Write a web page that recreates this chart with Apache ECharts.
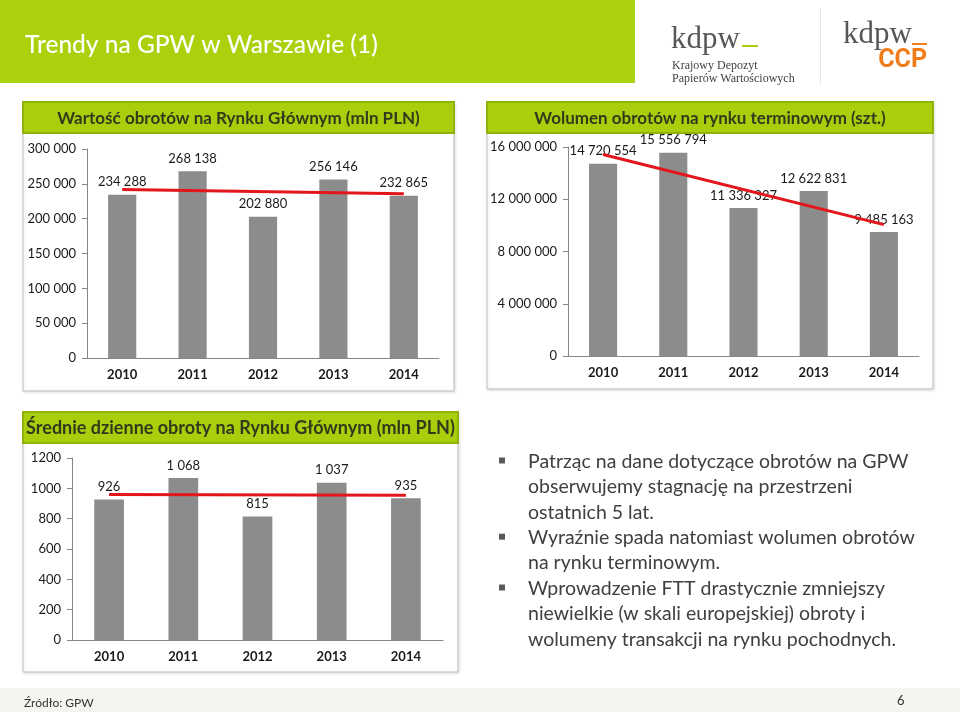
<!DOCTYPE html>
<html><head><meta charset="utf-8">
<script src="https://cdn.jsdelivr.net/npm/echarts@6/dist/echarts.min.js"></script>
<style>html,body{margin:0;padding:0;background:#fff}#c{width:960px;height:712px}</style>
</head><body><div id="c"></div>
<script>
// ---- data ----
const years = ['2010', '2011', '2012', '2013', '2014'];
const turnoverMain = [234288, 268138, 202880, 256146, 232865];
const trendMain = [241800, 235900];
const volumeDerivs = [14720554, 15556794, 11336327, 12622831, 9485163];
const trendDerivs = [15430000, 10060000];
const dailyAvg = [926, 1068, 815, 1037, 935];
const trendDaily = [959, 954];
const ticksMain = { min: 0, max: 300000, interval: 50000 };
const ticksDerivs = { min: 0, max: 16000000, interval: 4000000 };
const ticksDaily = { min: 0, max: 1200, interval: 200 };
const titles = ['Wartość obrotów na Rynku Głównym (mln PLN)', 'Wolumen obrotów na rynku terminowym (szt.)', 'Średnie dzienne obroty na Rynku Głównym (mln PLN)'];
const bullets = [
  ['Patrząc na dane dotyczące obrotów na GPW', 'obserwujemy stagnację na przestrzeni', 'ostatnich 5 lat.'],
  ['Wyraźnie spada natomiast wolumen obrotów', 'na rynku terminowym.'],
  ['Wprowadzenie FTT drastycznie zmniejszy', 'niewielkie (w skali europejskiej) obroty i', 'wolumeny transakcji na rynku pochodnych.']
];

const FONT = 'Lato, "Open Sans", sans-serif';
const sp = v => String(v).replace(/\B(?=(\d{3})+(?!\d))/g, ' ');
const GREEN = '#A9CF0C', GREEN_DARK = '#8FB30A', BAR = '#8C8C8C', RED = '#E3161C', AXIS = '#868686';

const grids = [
  { left: 87, top: 149, width: 352, height: 209 },
  { left: 568, top: 147, width: 351, height: 209 },
  { left: 72, top: 458, width: 371, height: 182 }
];
const ticks = [ticksMain, ticksDerivs, ticksDaily];
const values = [turnoverMain, volumeDerivs, dailyAvg];
const trends = [trendMain, trendDerivs, trendDaily];

const xAxis = grids.map((g, i) => ({
  type: 'category', gridIndex: i, data: years,
  axisLine: { lineStyle: { color: AXIS } },
  axisTick: { length: 5, lineStyle: { color: AXIS } },
  axisLabel: { fontFamily: FONT, fontWeight: 'bold', fontSize: 13, color: '#1a1a1a', margin: 10 }
}));
const yAxis = grids.map((g, i) => ({
  type: 'value', gridIndex: i, min: ticks[i].min, max: ticks[i].max, interval: ticks[i].interval,
  splitLine: { show: false },
  axisLine: { show: true, lineStyle: { color: AXIS } },
  axisTick: { show: true, length: 5, lineStyle: { color: AXIS } },
  axisLabel: { fontFamily: FONT, fontSize: 13, color: '#1a1a1a', margin: 11, formatter: v => i === 2 ? String(v) : sp(v) }
}));
const series = [];
values.forEach((vals, i) => {
  series.push({
    type: 'bar', xAxisIndex: i, yAxisIndex: i, data: vals, barWidth: '40%', z: 2,
    itemStyle: { color: BAR },
    label: { show: true, position: 'top', distance: 6, fontFamily: FONT, fontSize: 13, color: '#1a1a1a', formatter: p => sp(p.value) }
  });
  series.push({
    type: 'line', xAxisIndex: i, yAxisIndex: i, z: 5, symbol: 'none', silent: true,
    data: [[years[0], trends[i][0]], [years[years.length - 1], trends[i][1]]],
    lineStyle: { color: RED, width: 3 }
  });
});

const boxes = [
  { x: 23, y: 102, w: 431, h: 289, th: 31 },
  { x: 487, y: 102, w: 446, h: 287, th: 31 },
  { x: 23, y: 412, w: 435, h: 260, th: 31 }
];
const graphic = [];
// header
graphic.push({ type: 'rect', shape: { x: 0, y: 0, width: 635, height: 83 }, style: { fill: '#AAD10B' }, z: 0 });
graphic.push({ type: 'text', x: 25, y: 45, style: { text: 'Trendy na GPW w Warszawie (1)', fill: '#fff', font: '500 24.5px ' + FONT, textVerticalAlign: 'middle' }, z: 1 });
// logos
graphic.push({ type: 'text', x: 671, y: 40, style: { text: 'kdpw', fill: '#55585a', font: '31px "Liberation Serif", serif', textVerticalAlign: 'middle' } });
graphic.push({ type: 'rect', shape: { x: 742, y: 45, width: 16, height: 2 }, style: { fill: '#AACF0C' } });
graphic.push({ type: 'text', x: 672, y: 66, style: { text: 'Krajowy Depozyt', fill: '#3f3f3f', font: '12px "Liberation Serif", serif', textVerticalAlign: 'middle' } });
graphic.push({ type: 'text', x: 672, y: 79, style: { text: 'Papierów Wartościowych', fill: '#3f3f3f', font: '12px "Liberation Serif", serif', textVerticalAlign: 'middle' } });
graphic.push({ type: 'rect', shape: { x: 820, y: 8, width: 1, height: 76 }, style: { fill: '#e6e6e6' } });
graphic.push({ type: 'text', x: 843, y: 35, style: { text: 'kdpw', fill: '#55585a', font: '31px "Liberation Serif", serif', textVerticalAlign: 'middle' } });
graphic.push({ type: 'rect', shape: { x: 912, y: 43, width: 15, height: 2 }, style: { fill: '#F07D1A' } });
graphic.push({ type: 'text', x: 927, y: 61, style: { text: 'CCP', fill: '#F07D1A', font: 'bold 25px "Liberation Sans Narrow", "Roboto", sans-serif', textAlign: 'right', textVerticalAlign: 'middle' } });
// chart boxes
boxes.forEach((b, i) => {
  graphic.push({ type: 'rect', shape: { x: b.x, y: b.y, width: b.w, height: b.h }, style: { fill: '#fff', stroke: '#BFBFBF', lineWidth: 1, shadowBlur: 3, shadowColor: 'rgba(0,0,0,0.12)', shadowOffsetX: 1, shadowOffsetY: 1 }, z: -1 });
  graphic.push({ type: 'rect', shape: { x: b.x, y: b.y, width: b.w, height: b.th }, style: { fill: GREEN, stroke: GREEN_DARK, lineWidth: 2 }, z: 0 });
  graphic.push({ type: 'text', x: b.x + b.w / 2, y: b.y + b.th / 2 + 1, style: { text: titles[i], fill: '#333a1c', font: 'bold ' + (i === 2 ? 18 : 17) + 'px ' + FONT, textAlign: 'center', textVerticalAlign: 'middle' }, z: 1 });
});
// bullets
let ly = 461.5;
bullets.forEach(lines => {
  graphic.push({ type: 'rect', shape: { x: 499, y: ly - 4, width: 6, height: 6 }, style: { fill: '#595959' } });
  lines.forEach(t => {
    graphic.push({ type: 'text', x: 528, y: ly, style: { text: t, fill: '#404040', font: '19.5px ' + FONT, textVerticalAlign: 'middle' } });
    ly += 25.4;
  });
});
// footer
graphic.push({ type: 'rect', shape: { x: 0, y: 688, width: 960, height: 24 }, style: { fill: '#F5F4EE' }, z: -2 });
graphic.push({ type: 'text', x: 24, y: 703, style: { text: 'Źródło: GPW', fill: '#333', font: '12px ' + FONT, textVerticalAlign: 'middle' } });
graphic.push({ type: 'text', x: 897, y: 701, style: { text: '6', fill: '#333', font: '13px ' + FONT, textVerticalAlign: 'middle' } });

const chart = echarts.init(document.getElementById('c'), null, { renderer: 'canvas' });
chart.setOption({
  animation: false,
  backgroundColor: '#fff',
  grid: grids,
  xAxis, yAxis, series,
  graphic: { elements: graphic }
});
</script></body></html>
